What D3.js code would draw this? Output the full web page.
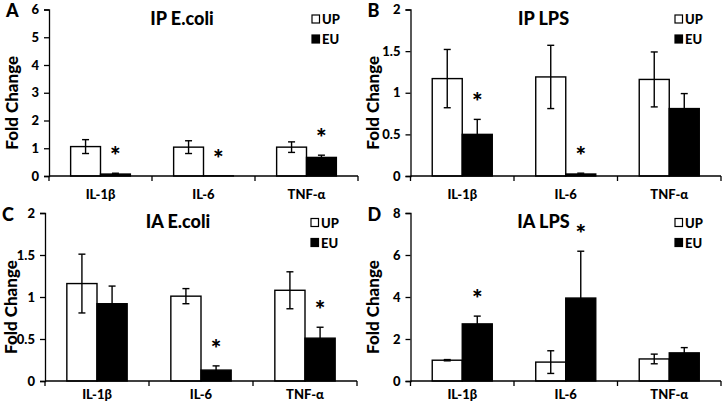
<!DOCTYPE html>
<html>
<head>
<meta charset="utf-8">
<script src="https://cdn.jsdelivr.net/npm/d3@7"></script>
<style>
  html, body { margin: 0; padding: 0; background: #fff; }
  svg { display: block; }
  text { font-family: Lato, "Open Sans", sans-serif; font-weight: 900; fill: #000; }
</style>
</head>
<body>
<svg id="chart" width="723" height="405"></svg>
<script>
// ---- data ----
const categories = ["IL-1β", "IL-6", "TNF-α"];
const seriesNames = ["UP", "EU"];
const panelLetters = ["A", "B", "C", "D"];
const panelTitles = ["IP E.coli", "IP LPS", "IA E.coli", "IA LPS"];
const yMax = [6, 2, 2, 8];
const yTicks = [[0,1,2,3,4,5,6], [0,0.5,1,1.5,2], [0,0.5,1,1.5,2], [0,2,4,6,8]];

// UP values / errors per panel
const upValues = [[1.06, 1.04, 1.04], [1.17, 1.19, 1.16], [1.16, 1.01, 1.08], [0.99, 0.90, 1.05]];
const upErrors = [[0.25, 0.23, 0.19], [0.35, 0.38, 0.33], [0.35, 0.09, 0.22], [0.03, 0.54, 0.23]];
// EU values / errors per panel
const euValues = [[0.07, 0.005, 0.67], [0.50, 0.024, 0.81], [0.92, 0.13, 0.51], [2.72, 3.95, 1.34]];
const euErrors = [[0.03, 0.0, 0.08], [0.18, 0.01, 0.18], [0.21, 0.05, 0.13], [0.37, 2.23, 0.25]];
// significance marks (EU vs UP)
const euSignificant = [[true, true, true], [true, true, false], [false, true, true], [true, true, false]];

// ---- layout ----
const panels = [
  { x0: 49,  x1: 358, yTop: 9.5, y0: 176, labY: 199, ylabOff: 31 },
  { x0: 410.5, x1: 721, yTop: 9.5, y0: 176, labY: 199, ylabOff: 32 },
  { x0: 45,  x1: 357, yTop: 213, y0: 381, labY: 399, ylabOff: 28 },
  { x0: 410.5, x1: 721, yTop: 213, y0: 381, labY: 399, ylabOff: 32 }
];

const svg = d3.select("#chart");

panels.forEach((p, i) => {
  const g = svg.append("g");
  const x = d3.scaleBand().domain(categories).range([p.x0, p.x1]).padding(0);
  const bw = x.bandwidth();
  const xs = d3.scaleBand().domain(seriesNames).range([bw * 0.21, bw * 0.79]).padding(0);
  const y = d3.scaleLinear().domain([0, yMax[i]]).range([p.y0, p.yTop]);

  // y axis
  const yAxis = d3.axisLeft(y).tickValues(yTicks[i]).tickSize(5).tickPadding(5)
    .tickFormat(d => d3.format("~g")(d));
  const ya = g.append("g").attr("transform", `translate(${p.x0},0)`).call(yAxis);
  ya.select(".domain").attr("stroke", "#000").attr("stroke-width", 1.3);
  ya.selectAll(".tick line").attr("stroke", "#000").attr("stroke-width", 1.3);
  ya.selectAll(".tick text").style("font-family", "Lato, sans-serif").style("font-weight", "900")
    .style("font-size", "13px").attr("fill", "#000");

  // bars
  const data = categories.map((c, k) => [
    { cat: c, s: "UP", v: upValues[i][k], e: upErrors[i][k], sig: false },
    { cat: c, s: "EU", v: euValues[i][k], e: euErrors[i][k], sig: euSignificant[i][k] }
  ]).flat();

  g.selectAll("rect.bar").data(data).join("rect")
    .attr("class", "bar")
    .attr("x", d => x(d.cat) + xs(d.s))
    .attr("width", xs.bandwidth())
    .attr("y", d => y(d.v))
    .attr("height", d => y(0) - y(d.v))
    .attr("fill", d => d.s === "UP" ? "#fff" : "#000")
    .attr("stroke", "#000")
    .attr("stroke-width", 1.4);

  // error bars
  const cx = d => x(d.cat) + xs(d.s) + xs.bandwidth() / 2;
  const eb = g.selectAll("g.err").data(data.filter(d => d.e > 0)).join("g").attr("class", "err");
  eb.append("line").attr("x1", cx).attr("x2", cx)
    .attr("y1", d => y(d.v + d.e)).attr("y2", d => y(Math.max(0, d.v - d.e)))
    .attr("stroke", "#000").attr("stroke-width", 1.4);
  eb.append("line").attr("x1", d => cx(d) - 3.5).attr("x2", d => cx(d) + 3.5)
    .attr("y1", d => y(d.v + d.e)).attr("y2", d => y(d.v + d.e))
    .attr("stroke", "#000").attr("stroke-width", 1.4);
  eb.append("line").attr("x1", d => cx(d) - 3.5).attr("x2", d => cx(d) + 3.5)
    .attr("y1", d => y(Math.max(0, d.v - d.e))).attr("y2", d => y(Math.max(0, d.v - d.e)))
    .attr("stroke", "#000").attr("stroke-width", 1.4);

  // significance stars
  g.selectAll("text.star").data(data.filter(d => d.sig)).join("text")
    .attr("class", "star")
    .attr("x", cx)
    .attr("y", d => y(d.v + d.e) - 21 + 13)
    .attr("text-anchor", "middle")
    .style("font-size", "25px")
    .text("*");

  // x axis line + boundary ticks
  g.append("line").attr("x1", p.x0).attr("x2", p.x1).attr("y1", p.y0).attr("y2", p.y0)
    .attr("stroke", "#000").attr("stroke-width", 1.3);
  const bounds = categories.map(c => x(c)).concat([p.x1]);
  g.selectAll("line.xt").data(bounds).join("line").attr("class", "xt")
    .attr("x1", d => d).attr("x2", d => d).attr("y1", p.y0).attr("y2", p.y0 + 5)
    .attr("stroke", "#000").attr("stroke-width", 1.3);
  g.selectAll("text.cat").data(categories).join("text").attr("class", "cat")
    .attr("x", d => x(d) + bw / 2).attr("y", p.labY)
    .attr("text-anchor", "middle").style("font-size", "13px")
    .text(d => d);

  // title
  g.append("text").attr("x", p.x0 + 133).attr("y", p.yTop + 15)
    .attr("text-anchor", "middle").style("font-size", "18px").text(panelTitles[i]);

  // y label
  g.append("text")
    .attr("transform", `translate(${p.x0 - p.ylabOff},${(p.y0 + p.yTop) / 2 + 10}) rotate(-90)`)
    .attr("text-anchor", "middle").style("font-size", "17px").text("Fold Change");

  // panel letter
  g.append("text").attr("x", p.x0 - 43).attr("y", p.yTop + 7.5)
    .style("font-size", "18px").text(panelLetters[i]);

  // legend
  const lg = g.append("g").attr("transform", `translate(${p.x1 - 46},${p.yTop + 5})`);
  seriesNames.forEach((s, k) => {
    lg.append("rect").attr("x", 0).attr("y", k * 20 + 0.5).attr("width", 7.5).attr("height", 8)
      .attr("fill", s === "UP" ? "#fff" : "#000").attr("stroke", "#000").attr("stroke-width", 1.2);
    lg.append("text").attr("x", 10).attr("y", k * 20 + 9.5).style("font-size", "13px").text(s);
  });
});
</script>
</body>
</html>
